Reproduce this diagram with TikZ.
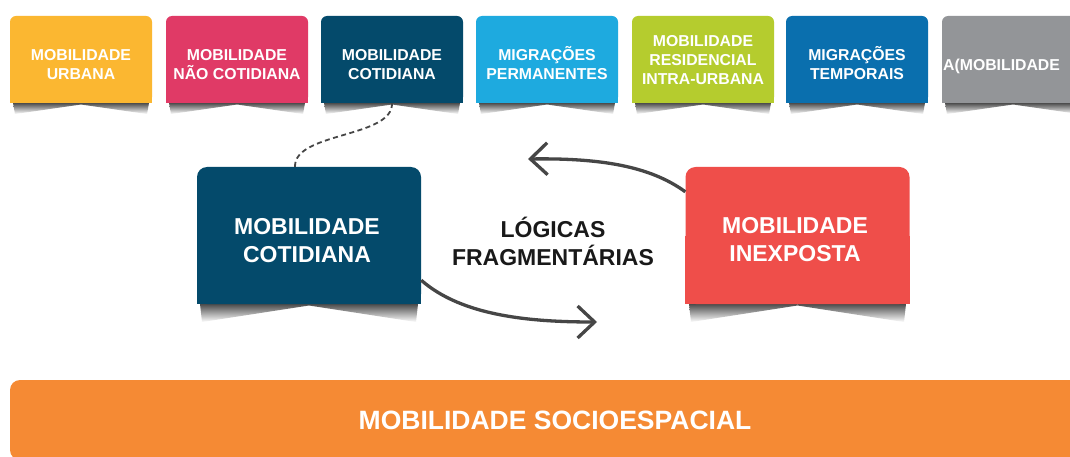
\documentclass[tikz,border=0pt]{standalone}
\usepackage{fontspec}
\setmainfont{Liberation Sans}
\usetikzlibrary{arrows.meta,calc}
\definecolor{cyellow}{HTML}{FBB731}
\definecolor{cpink}{HTML}{E03A66}
\definecolor{cteal}{HTML}{044A6B}
\definecolor{ccyan}{HTML}{1EAADF}
\definecolor{clime}{HTML}{B5CC2E}
\definecolor{cblue}{HTML}{0A6FAE}
\definecolor{cgray}{HTML}{939598}
\definecolor{cred}{HTML}{EF4E4A}
\definecolor{corange}{HTML}{F58A34}
\definecolor{carrow}{HTML}{464646}
\newcommand\dropshadow[4]{%
  \shade[top color=black!70, bottom color=white] (#1+3,#3) -- ({(#1+#2)/2},#3) -- ({(#1+#2)/2},#3+1.5) -- (#1+5,#3+#4) -- cycle;
  \shade[top color=black!70, bottom color=white] (#2-3,#3) -- ({(#1+#2)/2},#3) -- ({(#1+#2)/2},#3+1.5) -- (#2-5,#3+#4) -- cycle;
}
\newcommand\mytopbox[5]{%
  \dropshadow{#2}{#2+142}{103}{11}
  \node[topboxsty, fill=#3] (#1) at (#2+71,59.5) {};
  \fill[#3] (#1.west) rectangle (#1.south east);
  \node[toptext] (#1t) at (#2+71,#5) {#4};
}
\begin{document}
\begin{tikzpicture}[x=1pt,y=-1pt,
  topboxsty/.style={minimum width=142pt,minimum height=87pt,inner sep=0pt,rounded corners=6pt},
  toptext/.style={text=white,font=\bfseries\fontsize{15.8}{19}\selectfont,align=center,inner sep=0pt},
  bigbox/.style={minimum width=224pt,minimum height=137pt,inner sep=0pt,rounded corners=10pt},
  bigtext/.style={text=white,font=\bfseries\fontsize{23}{28}\selectfont,align=center,inner sep=0pt},
  midtext/.style={text=black!90,font=\bfseries\fontsize{23}{28}\selectfont,align=center,inner sep=0pt},
  flowarrow/.style={draw=carrow,line width=3.3pt,-{Straight Barb[length=17pt,width=32pt,line width=3.3pt]}},
  linkdash/.style={draw=carrow,line width=1.8pt,dash pattern=on 5pt off 3.5pt}
]
\path[use as bounding box] (0,0) rectangle (1070,457);
\clip (0,0) rectangle (1070,457);
\fill[white] (0,0) rectangle (1070,457);

% top row
\mytopbox{b1}{10}{cyellow}{MOBILIDADE\\URBANA}{64.5}
\mytopbox{b2}{166}{cpink}{MOBILIDADE\\NÃO COTIDIANA}{64.5}
\mytopbox{b3}{321}{cteal}{MOBILIDADE\\COTIDIANA}{64.5}
\mytopbox{b4}{476}{ccyan}{MIGRAÇÕES\\PERMANENTES}{63.5}
\mytopbox{b5}{632}{clime}{MOBILIDADE\\RESIDENCIAL\\INTRA-URBANA}{60}
\mytopbox{b6}{786}{cblue}{MIGRAÇÕES\\TEMPORAIS}{63.5}
\dropshadow{942}{1084}{103}{11}
\node[topboxsty, fill=cgray] (b7) at (1013,59.5) {};
\fill[cgray] (b7.west) rectangle (b7.south east);
\node[toptext, anchor=west] (b7t) at (943,66) {A(MOBILIDADE};

% central boxes
\dropshadow{197}{421}{304}{18}
\node[bigbox, fill=cteal] (mc) at (309,235.5) {};
\fill[cteal] (mc.west) rectangle (mc.south east);
\node[bigtext] (mct) at (307,241) {MOBILIDADE\\COTIDIANA};

\dropshadow{686}{909}{304}{18}
\node[bigbox, fill=cred] (mi) at (797.5,235.5) {};
\fill[cred] (mi.west) rectangle (mi.south east);
\node[bigtext] (mit) at (795,240) {MOBILIDADE\\INEXPOSTA};

\node[midtext] (lf) at (553,241) {LÓGICAS\\FRAGMENTÁRIAS};

% connectors
\coordinate (tipA) at (528,159);
\coordinate (tipB) at (597,322);
\draw[flowarrow] ($(mi.north west)+(0,25)$) .. controls (650,166) and (600,158) .. (tipA);
\draw[flowarrow] ($(mc.south east)+(0,-24)$) .. controls (462,316) and (530,322) .. (tipB);
\draw[linkdash] ($(mc.north)+(-14,0)$) .. controls (294,132) and (393,138) .. (b3.south);

% bottom bar
\node[fill=corange, rounded corners=10pt, minimum width=1090pt, minimum height=80pt, inner sep=0pt,
  text=white, font=\bfseries\fontsize{26.5}{30}\selectfont] (ms) at (555,420) {MOBILIDADE SOCIOESPACIAL};
\end{tikzpicture}
\end{document}
